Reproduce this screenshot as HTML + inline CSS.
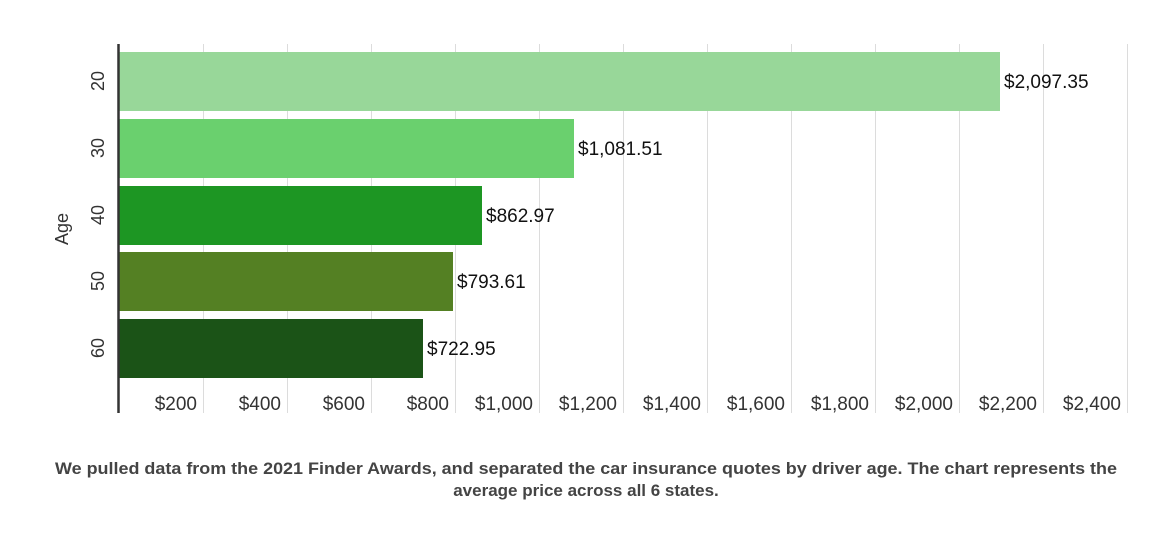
<!DOCTYPE html>
<html><head><meta charset="utf-8"><style>
html,body{margin:0;padding:0;background:#fff;}
svg{display:block;font-family:"Liberation Sans",sans-serif;}
</style></head><body>
<svg width="1172" height="542" viewBox="0 0 1172 542" xmlns="http://www.w3.org/2000/svg">
<g stroke="#dcdcdc" stroke-width="1">
<line x1="203.5" y1="44" x2="203.5" y2="413"/>
<line x1="287.5" y1="44" x2="287.5" y2="413"/>
<line x1="371.5" y1="44" x2="371.5" y2="413"/>
<line x1="455.5" y1="44" x2="455.5" y2="413"/>
<line x1="539.5" y1="44" x2="539.5" y2="413"/>
<line x1="623.5" y1="44" x2="623.5" y2="413"/>
<line x1="707.5" y1="44" x2="707.5" y2="413"/>
<line x1="791.5" y1="44" x2="791.5" y2="413"/>
<line x1="875.5" y1="44" x2="875.5" y2="413"/>
<line x1="959.5" y1="44" x2="959.5" y2="413"/>
<line x1="1043.5" y1="44" x2="1043.5" y2="413"/>
<line x1="1127.5" y1="44" x2="1127.5" y2="413"/>
</g>
<rect x="119" y="52" width="881" height="59" fill="#98d799"/>
<rect x="119" y="119" width="455" height="59" fill="#6ad06e"/>
<rect x="119" y="186" width="363" height="59" fill="#1d9623"/>
<rect x="119" y="252" width="334" height="59" fill="#548023"/>
<rect x="119" y="319" width="304" height="59" fill="#1b5317"/>
<line x1="118.5" y1="44" x2="118.5" y2="413" stroke="#333" stroke-width="2.5"/>
<g font-size="19" fill="#111">
<text x="1004" y="88">$2,097.35</text>
<text x="578" y="155">$1,081.51</text>
<text x="486" y="222">$862.97</text>
<text x="457" y="288">$793.61</text>
<text x="427" y="355">$722.95</text>
</g>
<g font-size="19" fill="#333" text-anchor="end">
<text x="197" y="410">$200</text>
<text x="281" y="410">$400</text>
<text x="365" y="410">$600</text>
<text x="449" y="410">$800</text>
<text x="533" y="410">$1,000</text>
<text x="617" y="410">$1,200</text>
<text x="701" y="410">$1,400</text>
<text x="785" y="410">$1,600</text>
<text x="869" y="410">$1,800</text>
<text x="953" y="410">$2,000</text>
<text x="1037" y="410">$2,200</text>
<text x="1121" y="410">$2,400</text>
</g>
<g font-size="18" fill="#333" text-anchor="middle">
<text transform="translate(104,81) rotate(-90)">20</text>
<text transform="translate(104,148) rotate(-90)">30</text>
<text transform="translate(104,215) rotate(-90)">40</text>
<text transform="translate(104,281) rotate(-90)">50</text>
<text transform="translate(104,348) rotate(-90)">60</text>
<text transform="translate(68,229) rotate(-90)">Age</text>
</g>
<g font-size="17" font-weight="bold" fill="#444">
<text x="55" y="474" textLength="1062" lengthAdjust="spacingAndGlyphs">We pulled data from the 2021 Finder Awards, and separated the car insurance quotes by driver age. The chart represents the</text>
<text x="586" y="496" text-anchor="middle">average price across all 6 states.</text>
</g>
</svg>
</body></html>
